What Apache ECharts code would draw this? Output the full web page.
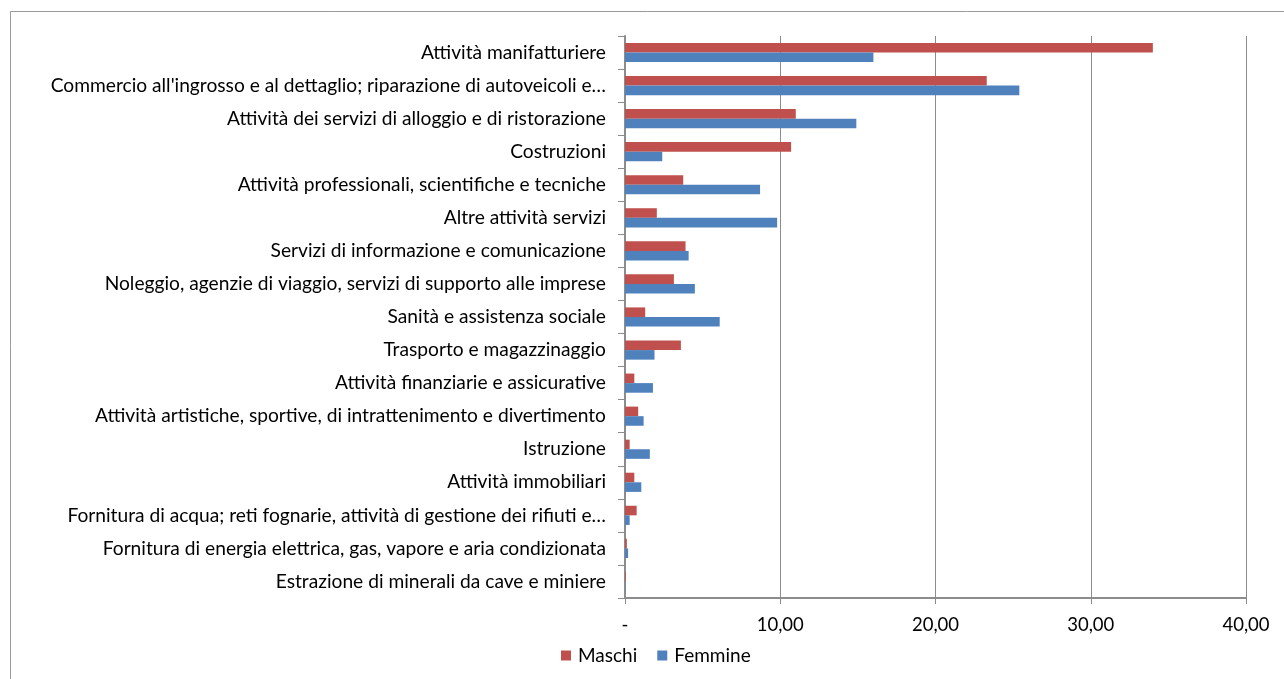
<!DOCTYPE html>
<html>
<head>
<meta charset="utf-8">
<script src="https://cdn.jsdelivr.net/npm/echarts@6/dist/echarts.min.js"></script>
<style>
html,body{margin:0;padding:0;background:#fff;}
#chart{width:1284px;height:679px;}
</style>
</head>
<body>
<div id="chart"></div>
<script>
const categories = [
  "Attività manifatturiere",
  "Commercio all'ingrosso e al dettaglio; riparazione di autoveicoli e…",
  "Attività dei servizi di alloggio e di ristorazione",
  "Costruzioni",
  "Attività professionali, scientifiche e tecniche",
  "Altre attività servizi",
  "Servizi di informazione e comunicazione",
  "Noleggio, agenzie di viaggio, servizi di supporto alle imprese",
  "Sanità e assistenza sociale",
  "Trasporto e magazzinaggio",
  "Attività finanziarie e assicurative",
  "Attività artistiche, sportive, di intrattenimento e divertimento",
  "Istruzione",
  "Attività immobiliari",
  "Fornitura di acqua; reti fognarie, attività di gestione dei rifiuti e…",
  "Fornitura di energia elettrica, gas, vapore e aria condizionata",
  "Estrazione di minerali da cave e miniere"
];
const maschi = [34.0, 23.3, 11.0, 10.7, 3.75, 2.05, 3.9, 3.15, 1.3, 3.6, 0.6, 0.85, 0.3, 0.6, 0.75, 0.12, 0.05];
const femmine = [16.0, 25.4, 14.9, 2.4, 8.7, 9.8, 4.1, 4.5, 6.1, 1.9, 1.8, 1.2, 1.6, 1.05, 0.3, 0.2, 0.02];
const seriesNames = ["Maschi", "Femmine"];
const xTickLabels = {0: "-", 10: "10,00", 20: "20,00", 30: "30,00", 40: "40,00"};

const FONT = "Lato";
const chart = echarts.init(document.getElementById('chart'));
chart.setOption({
  animation: false,
  backgroundColor: '#ffffff',
  textStyle: {fontFamily: FONT},
  graphic: [{
    type: 'rect',
    shape: {x: 10.5, y: 11.5, width: 1300, height: 700},
    style: {fill: 'none', stroke: '#9a9a9a', lineWidth: 1}
  }],
  grid: {left: 625, right: 38, top: 36, bottom: 81, containLabel: false},
  legend: {
    bottom: 9, left: 556,
    itemWidth: 10, itemHeight: 10, itemGap: 20,
    icon: 'rect',
    textStyle: {fontFamily: FONT, fontSize: 19, color: '#000', padding: [0, 0, 0, 2]},
    data: seriesNames
  },
  xAxis: {
    type: 'value', min: 0, max: 40, interval: 10,
    axisLine: {show: true, lineStyle: {color: '#8c8c8c', width: 2}},
    axisTick: {show: true, length: 6, lineStyle: {color: '#8c8c8c'}},
    splitLine: {show: true, lineStyle: {color: '#8c8c8c', width: 1}},
    axisLabel: {margin: 18, fontSize: 18.5, color: '#000', fontFamily: FONT,
      formatter: v => xTickLabels[v] !== undefined ? xTickLabels[v] : ''}
  },
  yAxis: {
    type: 'category', data: categories, inverse: true,
    axisLine: {show: true, onZero: false, lineStyle: {color: '#8c8c8c', width: 2}},
    axisTick: {show: true, length: 7, lineStyle: {color: '#8c8c8c'}},
    axisLabel: {margin: 19, fontSize: 19.2, color: '#000', fontFamily: FONT}
  },
  series: [
    {name: seriesNames[0], type: 'bar', data: maschi, barGap: '0%', barCategoryGap: '42%',
     itemStyle: {color: '#C0504D'}},
    {name: seriesNames[1], type: 'bar', data: femmine, barGap: '0%', barCategoryGap: '42%',
     itemStyle: {color: '#4F81BD'}}
  ]
});
</script>
</body>
</html>
